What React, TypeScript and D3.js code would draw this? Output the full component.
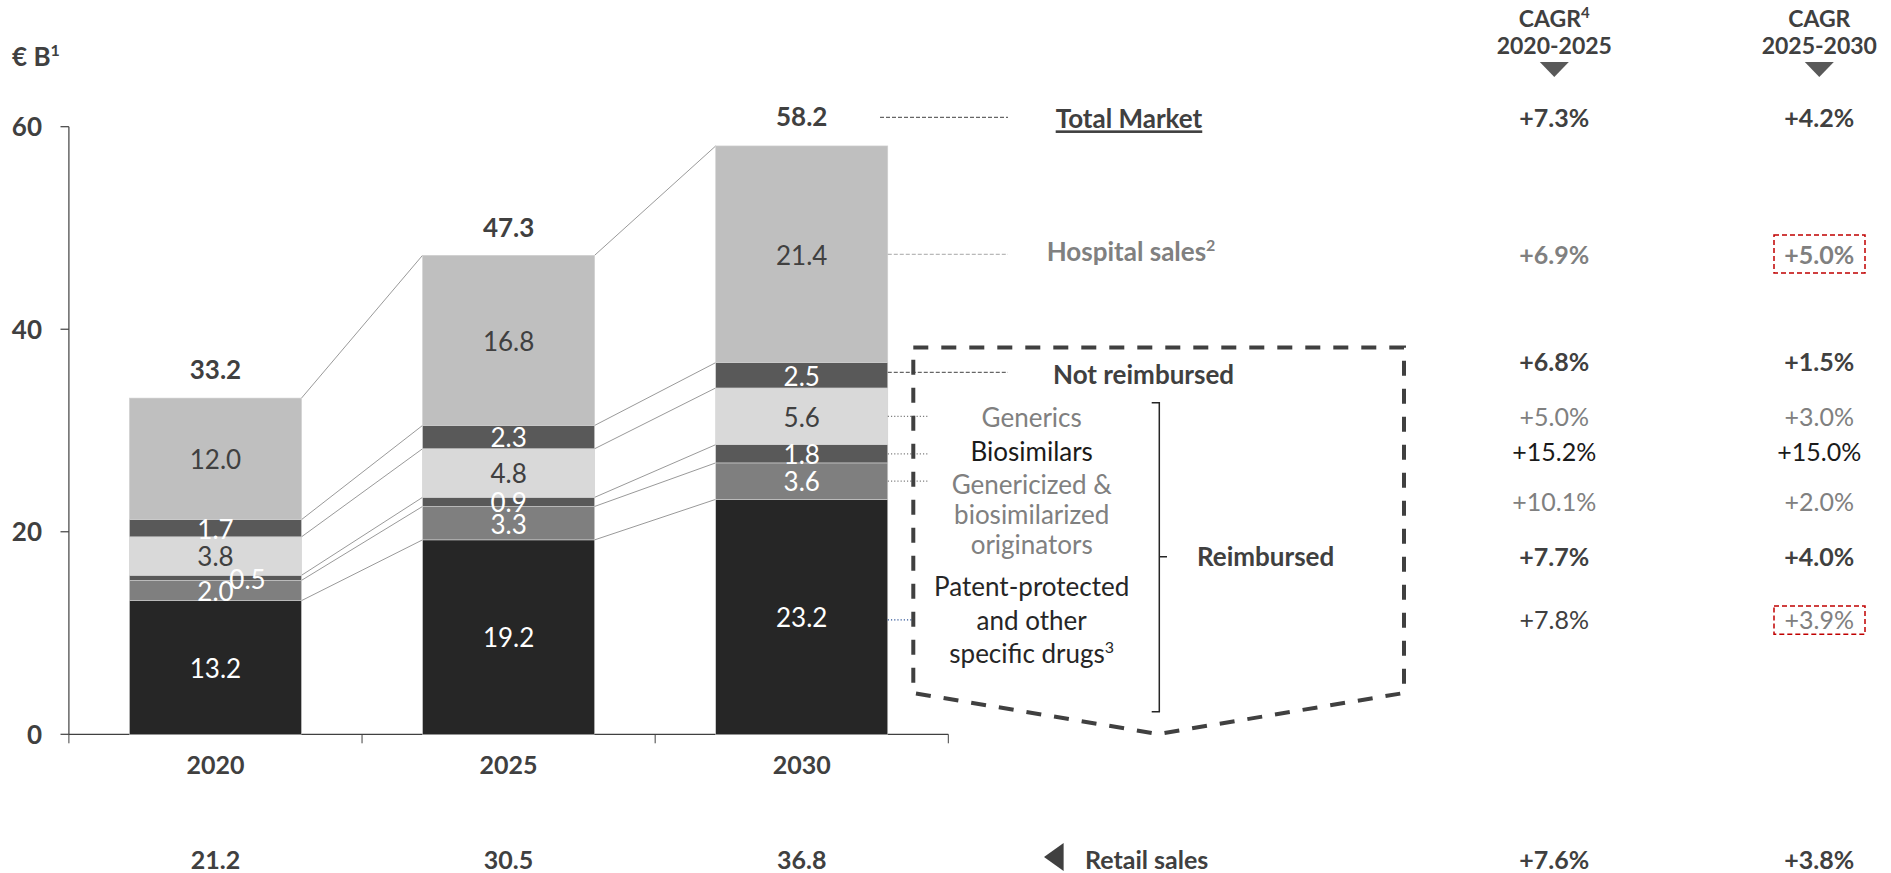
import React from "react";
import * as d3 from "d3";

const years = ["2020", "2025", "2030"];
const patentProtected = [13.2, 19.2, 23.2];
const genericized = [2.0, 3.3, 3.6];
const biosimilars = [0.5, 0.9, 1.8];
const generics = [3.8, 4.8, 5.6];
const notReimbursed = [1.7, 2.3, 2.5];
const hospital = [12.0, 16.8, 21.4];
const totals = [33.2, 47.3, 58.2];
const retailTotals = [21.2, 30.5, 36.8];
const yTicks = [0, 20, 40, 60];

const cagrHeaders = [
  { top: "CAGR", sup: "4", bottom: "2020-2025" },
  { top: "CAGR", sup: "", bottom: "2025-2030" },
];
const cagrTotal = ["+7.3%", "+4.2%"];
const cagrHospital = ["+6.9%", "+5.0%"];
const cagrNotReimbursed = ["+6.8%", "+1.5%"];
const cagrGenerics = ["+5.0%", "+3.0%"];
const cagrBiosimilars = ["+15.2%", "+15.0%"];
const cagrGenericized = ["+10.1%", "+2.0%"];
const cagrReimbursed = ["+7.7%", "+4.0%"];
const cagrPatent = ["+7.8%", "+3.9%"];
const cagrRetail = ["+7.6%", "+3.8%"];

const FONT = "Lato, 'Open Sans', sans-serif";
const DARK = "#404040";
const GREY = "#808080";

const keys = ["patent", "genericized", "biosimilars", "generics", "notReimbursed", "hospital"];
const segColors: Record<string, string> = {
  patent: "#262626",
  genericized: "#7f7f7f",
  biosimilars: "#595959",
  generics: "#d9d9d9",
  notReimbursed: "#595959",
  hospital: "#bfbfbf",
};
const labelColors: Record<string, string> = {
  patent: "#ffffff",
  genericized: "#ffffff",
  biosimilars: "#ffffff",
  generics: DARK,
  notReimbursed: "#ffffff",
  hospital: DARK,
};

export default function App() {
  const table = years.map((yr, i) => ({
    year: yr,
    patent: patentProtected[i],
    genericized: genericized[i],
    biosimilars: biosimilars[i],
    generics: generics[i],
    notReimbursed: notReimbursed[i],
    hospital: hospital[i],
  }));
  const stack = d3.stack<any>().keys(keys)(table);

  const x = d3
    .scaleBand<string>()
    .domain(years)
    .range([68.9, 948.3])
    .paddingInner(0.413)
    .paddingOuter(0.2065);
  const bw = x.bandwidth();
  const y = d3.scaleLinear().domain([0, 60]).range([734.3, 126.7]);
  const cx = (yr: string) => (x(yr) as number) + bw / 2;

  const catStep = x.step();
  const axisLeft = 68.9;
  const catTicks = [0, 1, 2, 3].map((k) => axisLeft + k * catStep);

  const colX = [1554.3, 1819.3];
  const last = years.length - 1;
  const midOf = (key: string, i: number) => {
    const s = stack.find((d) => d.key === key)!;
    return y((s[i][0] + s[i][1]) / 2);
  };
  const barRight2030 = (x(years[last]) as number) + bw;

  const cagrRows: { vals: string[]; y: number; weight: number; color: string[] }[] = [
    { vals: cagrTotal, y: 118, weight: 700, color: [DARK, DARK] },
    { vals: cagrHospital, y: 255, weight: 700, color: [GREY, GREY] },
    { vals: cagrNotReimbursed, y: 361.7, weight: 700, color: [DARK, DARK] },
    { vals: cagrGenerics, y: 416.7, weight: 400, color: [GREY, GREY] },
    { vals: cagrBiosimilars, y: 451.7, weight: 400, color: ["#1a1a1a", "#1a1a1a"] },
    { vals: cagrGenericized, y: 501.7, weight: 400, color: [GREY, GREY] },
    { vals: cagrReimbursed, y: 556.7, weight: 700, color: [DARK, DARK] },
    { vals: cagrPatent, y: 620, weight: 400, color: [DARK, GREY] },
    { vals: cagrRetail, y: 860, weight: 700, color: [DARK, DARK] },
  ];
  const redBoxes = [
    { row: 1, y0: 235, y1: 273 },
    { row: 7, y0: 606, y1: 634.3 },
  ];

  return (
    <svg
      width={1891}
      height={873}
      style={{ position: "absolute", left: 0, top: 0, background: "#fff" }}
      fontFamily={FONT}
    >
      {/* unit label */}
      <text x={12} y={56.7} dy="0.36em" fontSize={26} fontWeight={700} fill={DARK}>
        € B<tspan dy={-10} fontSize={16}>1</tspan>
      </text>

      {/* y axis */}
      <line x1={axisLeft} x2={axisLeft} y1={y(60)} y2={y(0)} stroke={DARK} strokeWidth={1.2} />
      {yTicks.map((t) => (
        <g key={t}>
          <line x1={60.5} x2={axisLeft} y1={y(t)} y2={y(t)} stroke={DARK} strokeWidth={1.2} />
          <text x={42} y={y(t)} dy="0.36em" textAnchor="end" fontSize={26} fontWeight={700} fill={DARK}>
            {t}
          </text>
        </g>
      ))}
      {/* x axis */}
      <line x1={axisLeft} x2={catTicks[3]} y1={y(0)} y2={y(0)} stroke={DARK} strokeWidth={1.2} />
      {catTicks.map((t, k) => (
        <line key={k} x1={t} x2={t} y1={y(0)} y2={y(0) + 9} stroke={DARK} strokeWidth={1} />
      ))}
      {years.map((yr) => (
        <text key={yr} x={cx(yr)} y={765} dy="0.36em" textAnchor="middle" fontSize={25} fontWeight={700} fill={DARK}>
          {yr}
        </text>
      ))}

      {/* connectors */}
      {years.slice(0, last).map((yr, i) =>
        stack.map((s) => (
          <line
            key={yr + s.key}
            x1={(x(yr) as number) + bw}
            y1={y(s[i][1])}
            x2={x(years[i + 1]) as number}
            y2={y(s[i + 1][1])}
            stroke="#7f7f7f"
            strokeWidth={0.8}
          />
        ))
      )}

      {/* bars */}
      {stack.map((s) =>
        s.map((d, i) => (
          <rect
            key={s.key + i}
            x={x(years[i]) as number}
            y={y(d[1])}
            width={bw}
            height={y(d[0]) - y(d[1])}
            fill={segColors[s.key]}
            stroke="#d0d0d0"
            strokeWidth={0.6}
          />
        ))
      )}
      {/* segment labels */}
      {stack.map((s) =>
        s.map((d, i) => {
          const v = d[1] - d[0];
          const small = v < 0.7 && i === 0;
          return (
            <text
              key={"l" + s.key + i}
              x={cx(years[i]) + (small ? 32 : 0)}
              y={y((d[0] + d[1]) / 2) + (small ? 2 : 1)}
              dy="0.36em"
              textAnchor="middle"
              fontSize={26}
              fill={labelColors[s.key]}
            >
              {(s.key === "hospital" ? hospital[i] : v).toFixed(1)}
            </text>
          );
        })
      )}
      {/* totals */}
      {years.map((yr, i) => (
        <text key={"t" + yr} x={cx(yr)} y={y(totals[i]) - 28} dy="0.36em" textAnchor="middle" fontSize={26} fontWeight={700} fill={DARK}>
          {totals[i].toFixed(1)}
        </text>
      ))}
      {/* retail totals */}
      {years.map((yr, i) => (
        <text key={"r" + yr} x={cx(yr)} y={860} dy="0.36em" textAnchor="middle" fontSize={25} fontWeight={700} fill={DARK}>
          {retailTotals[i].toFixed(1)}
        </text>
      ))}

      {/* leaders */}
      <line x1={880} x2={1008} y1={117.3} y2={117.3} stroke={DARK} strokeWidth={1} strokeDasharray="4,2" />
      <line x1={barRight2030} x2={1008} y1={midOf("hospital", last)} y2={midOf("hospital", last)} stroke="#a6a6a6" strokeWidth={1} strokeDasharray="4,2" />
      <line x1={barRight2030} x2={1008} y1={midOf("notReimbursed", last) - 3} y2={midOf("notReimbursed", last) - 3} stroke={DARK} strokeWidth={1} strokeDasharray="4,2" />
      {["generics", "biosimilars", "genericized"].map((k) => (
        <line key={"ld" + k} x1={barRight2030} x2={928} y1={midOf(k, last)} y2={midOf(k, last)} stroke="#7f7f7f" strokeWidth={1.2} strokeDasharray="1.2,2" />
      ))}
      <line x1={barRight2030} x2={913} y1={midOf("patent", last) + 3} y2={midOf("patent", last) + 3} stroke="#2f5597" strokeWidth={1.2} strokeDasharray="1.2,2" />

      {/* dashed arrow shape */}
      <path
        d="M913.3,347.5 L1404,347.5 L1404,693 L1158,734 L913.3,693 Z"
        fill="none"
        stroke={DARK}
        strokeWidth={4}
        strokeDasharray="15,13"
      />

      {/* right labels */}
      <text x={1055.7} y={119} dy="0.36em" fontSize={26} fontWeight={700} fill={DARK} textDecoration="underline">
        Total Market
      </text>
      <text x={1046.7} y={252} dy="0.36em" fontSize={26} fontWeight={700} fill={GREY}>
        Hospital sales<tspan dy={-10} fontSize={16}>2</tspan>
      </text>
      <text x={1053} y={375} dy="0.36em" fontSize={26} fontWeight={700} fill={DARK}>
        Not reimbursed
      </text>
      <text x={1031.7} y={417.3} dy="0.36em" textAnchor="middle" fontSize={26} fill={GREY}>Generics</text>
      <text x={1031.7} y={451.7} dy="0.36em" textAnchor="middle" fontSize={26} fill="#1a1a1a">Biosimilars</text>
      <text x={1031.7} y={485} dy="0.36em" textAnchor="middle" fontSize={26} fill={GREY}>Genericized &amp;</text>
      <text x={1031.7} y={515} dy="0.36em" textAnchor="middle" fontSize={26} fill={GREY}>biosimilarized</text>
      <text x={1031.7} y={545} dy="0.36em" textAnchor="middle" fontSize={26} fill={GREY}>originators</text>
      <text x={1031.7} y={586.7} dy="0.36em" textAnchor="middle" fontSize={26} fill="#262626">Patent-protected</text>
      <text x={1031.7} y={620.7} dy="0.36em" textAnchor="middle" fontSize={26} fill="#262626">and other</text>
      <text x={1031.7} y={654} dy="0.36em" textAnchor="middle" fontSize={26} fill="#262626">
        specific drugs<tspan dy={-10} fontSize={16}>3</tspan>
      </text>

      {/* bracket */}
      <path d="M1151.7,402.7 H1159.3 V711.7 H1151.7 M1159.3,556.7 H1167" fill="none" stroke="#262626" strokeWidth={1.5} />
      <text x={1197} y={556.7} dy="0.36em" fontSize={26} fontWeight={700} fill={DARK}>
        Reimbursed
      </text>

      {/* retail sales */}
      <path d="M1044,857 L1063.6,843 L1063.6,871 Z" fill={DARK} />
      <text x={1085} y={860} dy="0.36em" fontSize={25} fontWeight={700} fill={DARK}>
        Retail sales
      </text>

      {/* CAGR headers */}
      {cagrHeaders.map((h, j) => (
        <g key={"h" + j}>
          <text x={colX[j]} y={18.3} dy="0.36em" textAnchor="middle" fontSize={23} fontWeight={700} fill={DARK}>
            {h.top}
            {h.sup ? <tspan dy={-9} fontSize={15}>{h.sup}</tspan> : null}
          </text>
          <text x={colX[j]} y={45.7} dy="0.36em" textAnchor="middle" fontSize={23} fontWeight={700} fill={DARK}>
            {h.bottom}
          </text>
          <path d={`M${colX[j] - 14.5},62 L${colX[j] + 14.5},62 L${colX[j]},77 Z`} fill="#595959" />
        </g>
      ))}
      {cagrRows.map((r, ri) =>
        r.vals.map((v, j) => (
          <text key={"c" + ri + j} x={colX[j]} y={r.y} dy="0.36em" textAnchor="middle" fontSize={25} fontWeight={r.weight} fill={r.color[j]}>
            {v}
          </text>
        ))
      )}
      {redBoxes.map((b, k) => (
        <rect key={"rb" + k} x={1774} y={b.y0} width={91} height={b.y1 - b.y0} fill="none" stroke="#c00000" strokeWidth={1.5} strokeDasharray="5,3" />
      ))}
    </svg>
  );
}
